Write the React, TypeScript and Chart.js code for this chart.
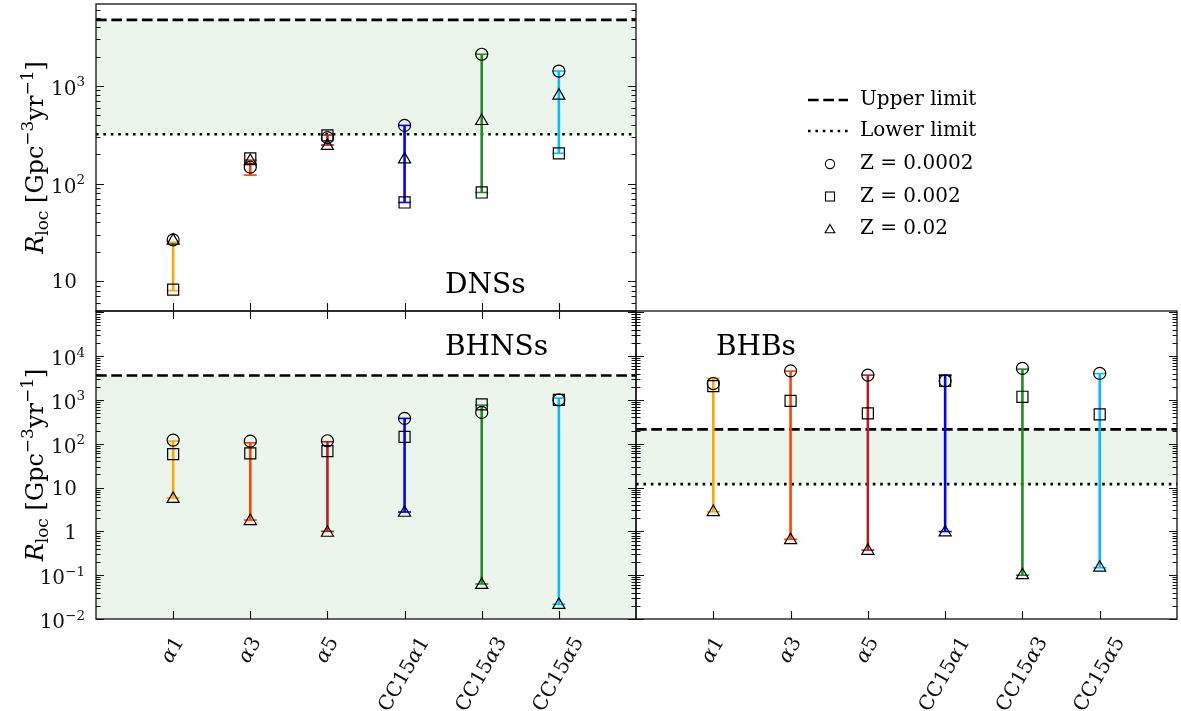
import React, { useEffect, useRef } from 'react';
import { Chart, registerables } from 'chart.js';

Chart.register(...registerables);

const FONT = '"DejaVu Serif", "Liberation Serif", serif';

// ---------- data ----------
const categories = ['α1', 'α3', 'α5', 'CC15α1', 'CC15α3', 'CC15α5'];
const modelColors = ['#ffa500', '#ff4500', '#b22222', '#0000ff', '#228b22', '#00bfff'];
const xRange = [-1, 6];

// DNSs
const dnsZ0002 = [26.5, 147, 295, 394, 2110, 1420];
const dnsZ002 = [8.2, 181, 312, 64, 81, 204];
const dnsZ02 = [26, 170, 243, 177, 437, 796];
const dnsLow = [8.0, 122, 248, 64, 81, 204];
const dnsHigh = [25, 174, 314, 394, 2110, 1420];
const dnsUpper = 4740;
const dnsLower = 320;
const dnsYRange = [4.95, 6900];

// BHNSs
const bhnsZ0002 = [121, 115, 117, 379, 519, 1006];
const bhnsZ002 = [58, 60, 68, 144, 789, 1006];
const bhnsZ02 = [5.5, 1.72, 0.93, 2.66, 0.06, 0.021];
const bhnsLow = [5.8, 1.81, 1.0, 2.76, 0.063, 0.0216];
const bhnsHigh = [115, 105, 111, 379, 760, 1100];
const bhnsUpper = 3600;
const bhnsYRange = [0.01, 1.07e5];

// BHBs
const bhbZ0002 = [2370, 4610, 3680, 2730, 5250, 4030];
const bhbZ002 = [2070, 955, 492, 2730, 1180, 468];
const bhbZ02 = [2.76, 0.63, 0.36, 0.95, 0.1, 0.148];
const bhbLow = [2.8, 0.66, 0.374, 0.99, 0.1, 0.148];
const bhbHigh = [3100, 4540, 3680, 3680, 5050, 4000];
const bhbUpper = 213;
const bhbLower = 12;
const bhbYRange = [0.01, 1.07e5];

const legendLabels = ['Upper limit', 'Lower limit', 'Z = 0.0002', 'Z = 0.002', 'Z = 0.02'];

// ---------- helpers ----------
const FILL = 'rgba(0,128,0,0.08)';
const DASH = [10.7, 4.6];
const DOT = [2.6, 4.8];

function drawSegs(ctx: CanvasRenderingContext2D, segs: { t: string; f: string; dy: number }[], x: number, y: number, anchor: 'left' | 'center' | 'right') {
  const widths = segs.map((s) => {
    ctx.font = s.f;
    return ctx.measureText(s.t).width;
  });
  const total = widths.reduce((a, b) => a + b, 0);
  let cx = anchor === 'left' ? x : anchor === 'center' ? x - total / 2 : x - total;
  ctx.textAlign = 'left';
  segs.forEach((s, i) => {
    ctx.font = s.f;
    ctx.fillText(s.t, cx, y + s.dy);
    cx += widths[i];
  });
  return total;
}

function drawYTitle(ctx: CanvasRenderingContext2D, x: number, y: number) {
  const segs = [
    { t: 'R', f: `italic 24px ${FONT}`, dy: 0 },
    { t: 'loc', f: `17px ${FONT}`, dy: 5 },
    { t: ' [Gpc', f: `24px ${FONT}`, dy: 0 },
    { t: '−3', f: `17px ${FONT}`, dy: -10 },
    { t: 'yr', f: `24px ${FONT}`, dy: 0 },
    { t: '−1', f: `17px ${FONT}`, dy: -10 },
    { t: ']', f: `24px ${FONT}`, dy: 0 },
  ];
  ctx.save();
  ctx.translate(x, y);
  ctx.rotate(-Math.PI / 2);
  ctx.textBaseline = 'alphabetic';
  ctx.fillStyle = '#000';
  drawSegs(ctx, segs, 0, 0, 'center');
  ctx.restore();
}

function drawYLabels(ctx: CanvasRenderingContext2D, ys: any, a: any, yMin: number, yMax: number) {
  ctx.save();
  ctx.fillStyle = '#111';
  ctx.textBaseline = 'alphabetic';
  const base = `20px ${FONT}`;
  const small = `13.5px ${FONT}`;
  for (let e = Math.ceil(Math.log10(yMin) - 1e-9); e <= Math.floor(Math.log10(yMax) + 1e-9); e++) {
    const v = Math.pow(10, e);
    if (v > yMax / 1.1) continue;
    const py = ys.getPixelForValue(v);
    if (e === 0 || e === 1) {
      ctx.font = base;
      ctx.textAlign = 'right';
      ctx.fillText(e === 0 ? '1' : '10', a.left - 19, py + 7.3);
    } else {
      const exp = String(e).replace('-', '−');
      drawSegs(ctx, [
        { t: '10', f: base, dy: 9.2 },
        { t: exp, f: small, dy: 0.5 },
      ], a.left - 11, py, 'right');
    }
  }
  ctx.restore();
}

function drawXLabels(ctx: CanvasRenderingContext2D, xs: any, a: any) {
  const ang = Math.PI / 3;
  const normal = `20px ${FONT}`;
  const italic = `italic 20px ${FONT}`;
  ctx.save();
  ctx.fillStyle = '#111';
  ctx.textBaseline = 'middle';
  categories.forEach((c, i) => {
    const parts = c.split('α');
    const segs = [
      { t: parts[0], f: normal, dy: 0 },
      { t: 'α', f: italic, dy: 0 },
      { t: parts[1], f: normal, dy: 0 },
    ];
    let w = 0;
    segs.forEach((s) => { ctx.font = s.f; w += ctx.measureText(s.t).width; });
    const h = 16;
    const bh = w * Math.sin(ang) + h * Math.cos(ang);
    const cx = xs.getPixelForValue(i);
    const cy = a.bottom + 16 + bh / 2;
    ctx.save();
    ctx.translate(cx, cy);
    ctx.rotate(-ang);
    drawSegs(ctx, segs, 0, 0, 'center');
    ctx.restore();
  });
  ctx.restore();
}

function drawLegend(ctx: CanvasRenderingContext2D) {
  const x0 = 808, x1 = 848, tx = 860, mx = 830;
  const rows = [100, 131, 164, 196.5, 229];
  ctx.save();
  ctx.strokeStyle = '#000';
  ctx.lineWidth = 2.6;
  ctx.setLineDash(DASH);
  ctx.beginPath(); ctx.moveTo(x0, rows[0]); ctx.lineTo(x1, rows[0]); ctx.stroke();
  ctx.setLineDash(DOT);
  ctx.beginPath(); ctx.moveTo(x0, rows[1]); ctx.lineTo(x1, rows[1]); ctx.stroke();
  ctx.setLineDash([]);
  ctx.lineWidth = 1.1;
  ctx.beginPath(); ctx.arc(mx, rows[2], 4.6, 0, Math.PI * 2); ctx.stroke();
  ctx.strokeRect(mx - 4.5, rows[3] - 4.5, 9, 9);
  const r = 5.6;
  ctx.beginPath();
  for (let k = 0; k < 3; k++) {
    const ang = -Math.PI / 2 + (k * 2 * Math.PI) / 3;
    const px = mx + Math.cos(ang) * r, py = rows[4] + 1 + Math.sin(ang) * r;
    if (k === 0) ctx.moveTo(px, py); else ctx.lineTo(px, py);
  }
  ctx.closePath(); ctx.stroke();
  ctx.font = `20px ${FONT}`;
  ctx.fillStyle = '#000';
  ctx.textAlign = 'left';
  ctx.textBaseline = 'middle';
  legendLabels.forEach((l, i) => ctx.fillText(l, tx, rows[i]));
  ctx.restore();
}

interface Panel {
  z0002: number[]; z002: number[]; z02: number[]; lo: number[]; hi: number[];
  upper: number; lower: number | null; yRange: number[];
  title: string; titleDx: number; titleDy: number;
  padding: { left: number; top: number; right: number; bottom: number };
  yWidth: number; xHeight: number;
  showYLabels: boolean; showXLabels: boolean; xTicksBelow: boolean; legend: boolean;
}

function decorPlugin(p: Panel) {
  return {
    id: 'decor',
    afterDraw(chart: any) {
      const { ctx, chartArea: a } = chart;
      const xs = chart.scales.x, ys = chart.scales.y;
      const [yMin, yMax] = p.yRange;
      ctx.save();
      ctx.strokeStyle = '#111';
      ctx.lineWidth = 1.1;
      ctx.setLineDash([]);
      ctx.beginPath();
      const eLo = Math.floor(Math.log10(yMin)), eHi = Math.ceil(Math.log10(yMax));
      for (let e = eLo; e <= eHi; e++) {
        for (let m = 1; m <= 9; m++) {
          const v = m * Math.pow(10, e);
          if (v < yMin * 0.9999 || v > yMax * 1.0001) continue;
          const py = Math.round(ys.getPixelForValue(v)) + 0.5;
          const len = m === 1 ? 8 : 4.5;
          ctx.moveTo(a.left, py); ctx.lineTo(a.left + len, py);
          ctx.moveTo(a.right, py); ctx.lineTo(a.right - len, py);
        }
      }
      for (let i = 0; i < categories.length; i++) {
        const px = Math.round(xs.getPixelForValue(i)) + 0.5;
        ctx.moveTo(px, a.bottom - 8);
        ctx.lineTo(px, a.bottom + (p.xTicksBelow ? 8 : 0));
      }
      ctx.stroke();
      ctx.lineWidth = 1.3;
      ctx.strokeRect(a.left, a.top, a.right - a.left, a.bottom - a.top);
      ctx.fillStyle = '#000';
      ctx.font = `28px ${FONT}`;
      ctx.textAlign = 'left';
      ctx.textBaseline = 'alphabetic';
      ctx.fillText(p.title, a.left + p.titleDx, a.top + p.titleDy);
      ctx.restore();
      if (p.showYLabels) {
        drawYLabels(ctx, ys, a, yMin, yMax);
        drawYTitle(ctx, a.left - 53, (a.top + a.bottom) / 2);
      }
      if (p.showXLabels) drawXLabels(ctx, xs, a);
      if (p.legend) drawLegend(ctx);
    },
  };
}

function buildPanel(canvas: HTMLCanvasElement, p: Panel) {
  const toPts = (vals: number[]) => vals.map((v, i) => ({ x: i, y: v }));
  const markerDs = (vals: number[], style: string, radius: number, label: string) => ({
    label,
    data: toPts(vals),
    showLine: false,
    pointStyle: style,
    pointRadius: radius,
    pointHoverRadius: radius,
    pointBorderColor: '#000',
    pointBackgroundColor: 'rgba(0,0,0,0)',
    pointBorderWidth: 1.2,
    order: 0,
  });
  const barDs = categories.map((c, i) => ({
    label: c,
    data: [{ x: i, y: p.lo[i] }, { x: i, y: p.hi[i] }],
    borderColor: modelColors[i],
    borderWidth: 2.6,
    pointStyle: 'line',
    pointRadius: 6.5,
    pointHoverRadius: 6.5,
    pointBorderColor: modelColors[i],
    pointBorderWidth: 1.6,
    fill: false,
    order: 1,
  }));
  const limitDs: any[] = [
    {
      label: 'Upper limit',
      data: [{ x: xRange[0], y: p.upper }, { x: xRange[1], y: p.upper }],
      borderColor: '#000',
      borderWidth: 2.6,
      borderDash: DASH,
      pointRadius: 0,
      fill: p.lower != null ? { value: p.lower } : 'start',
      backgroundColor: FILL,
      order: 2,
    },
  ];
  if (p.lower != null) {
    limitDs.push({
      label: 'Lower limit',
      data: [{ x: xRange[0], y: p.lower }, { x: xRange[1], y: p.lower }],
      borderColor: '#000',
      borderWidth: 2.6,
      borderDash: DOT,
      pointRadius: 0,
      fill: false,
      order: 2,
    });
  }
  return new Chart(canvas, {
    type: 'line',
    data: {
      datasets: [
        markerDs(p.z0002, 'circle', 6, 'Z = 0.0002'),
        markerDs(p.z002, 'rect', 7.8, 'Z = 0.002'),
        markerDs(p.z02, 'triangle', 7, 'Z = 0.02'),
        ...barDs,
        ...limitDs,
      ] as any,
    },
    options: {
      animation: false,
      responsive: false,
      devicePixelRatio: 1,
      layout: { padding: p.padding, autoPadding: false },
      plugins: { legend: { display: false }, tooltip: { enabled: false } },
      events: [],
      scales: {
        x: {
          type: 'linear',
          min: xRange[0],
          max: xRange[1],
          grid: { display: false },
          border: { display: false },
          ticks: { display: false },
          afterBuildTicks: (s: any) => {
            s.ticks = categories.map((_, i) => ({ value: i }));
          },
          afterFit: (s: any) => {
            s.height = p.xHeight;
            s.paddingLeft = 0; s.paddingRight = 0; s.paddingTop = 0; s.paddingBottom = 0;
          },
        },
        y: {
          type: 'logarithmic',
          min: p.yRange[0],
          max: p.yRange[1],
          grid: { display: false },
          border: { display: false },
          ticks: { display: false },
          afterFit: (s: any) => {
            s.width = p.yWidth;
            s.paddingLeft = 0; s.paddingRight = 0; s.paddingTop = 0; s.paddingBottom = 0;
          },
        },
      },
    } as any,
    plugins: [decorPlugin(p)],
  });
}

const dnsPanel: Panel = {
  z0002: dnsZ0002, z002: dnsZ002, z02: dnsZ02, lo: dnsLow, hi: dnsHigh,
  upper: dnsUpper, lower: dnsLower, yRange: dnsYRange,
  title: 'DNSs', titleDx: 349, titleDy: 289,
  padding: { left: 0, top: 4, right: 545, bottom: 0 },
  yWidth: 96, xHeight: 9,
  showYLabels: true, showXLabels: false, xTicksBelow: true, legend: true,
};

const bhnsPanel: Panel = {
  z0002: bhnsZ0002, z002: bhnsZ002, z02: bhnsZ02, lo: bhnsLow, hi: bhnsHigh,
  upper: bhnsUpper, lower: null, yRange: bhnsYRange,
  title: 'BHNSs', titleDx: 349, titleDy: 44,
  padding: { left: 0, top: 11, right: 4, bottom: 0 },
  yWidth: 96, xHeight: 92,
  showYLabels: true, showXLabels: true, xTicksBelow: false, legend: false,
};

const bhbPanel: Panel = {
  z0002: bhbZ0002, z002: bhbZ002, z02: bhbZ02, lo: bhbLow, hi: bhbHigh,
  upper: bhbUpper, lower: bhbLower, yRange: bhbYRange,
  title: 'BHBs', titleDx: 80, titleDy: 44,
  padding: { left: 6, top: 11, right: 4, bottom: 0 },
  yWidth: 0, xHeight: 92,
  showYLabels: false, showXLabels: true, xTicksBelow: false, legend: false,
};

export default function App() {
  const r1 = useRef<HTMLCanvasElement>(null);
  const r2 = useRef<HTMLCanvasElement>(null);
  const r3 = useRef<HTMLCanvasElement>(null);
  useEffect(() => {
    const charts = [
      buildPanel(r1.current as HTMLCanvasElement, dnsPanel),
      buildPanel(r2.current as HTMLCanvasElement, bhnsPanel),
      buildPanel(r3.current as HTMLCanvasElement, bhbPanel),
    ];
    return () => charts.forEach((c) => c.destroy());
  }, []);
  return (
    <div style={{ position: 'fixed', left: 0, top: 0, width: 1181, height: 711, background: '#fff', overflow: 'hidden' }}>
      <canvas ref={r1} width={1181} height={320} style={{ position: 'absolute', left: 0, top: 0 }} />
      <canvas ref={r2} width={640} height={411} style={{ position: 'absolute', left: 0, top: 300 }} />
      <canvas ref={r3} width={551} height={411} style={{ position: 'absolute', left: 630, top: 300 }} />
    </div>
  );
}
